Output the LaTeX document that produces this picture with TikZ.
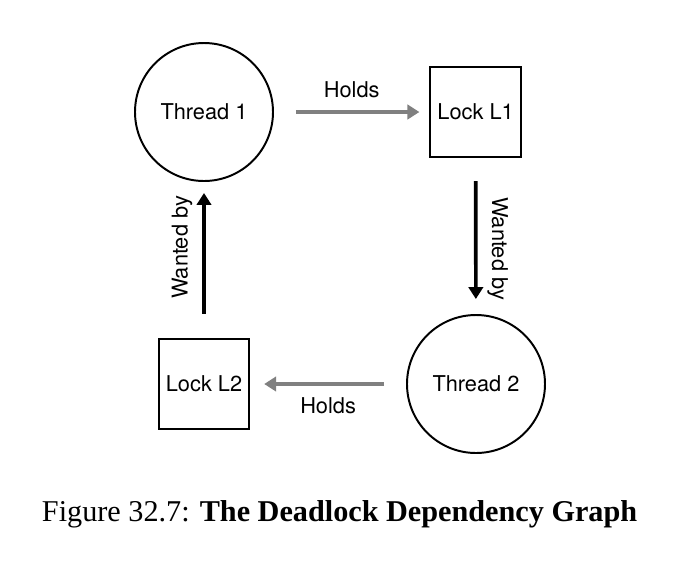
\documentclass[tikz,border=0pt]{standalone}
\usepackage{fontspec}
\newfontfamily\diagfont{TeX Gyre Heros}
\newfontfamily\capfont{Liberation Serif}
\usetikzlibrary{arrows.meta}

\definecolor{holdgray}{RGB}{128,128,128}

\tikzset{
    threadnode/.style={circle, draw, line width=1.4pt, minimum size=3.45cm, inner sep=0pt},
    locknode/.style={rectangle, draw, line width=1.4pt, minimum size=2.26cm, inner sep=0pt},
    holdsarrow/.style={line width=2.6pt, holdgray, -{Triangle[length=0.3cm,width=0.36cm]}},
    wantedarrow/.style={line width=2.6pt, black, -{Triangle[length=0.3cm,width=0.36cm]}}
}

\begin{document}
\begin{tikzpicture}[font=\diagfont\fontsize{15.5}{18}\selectfont]
    \useasboundingbox (0,0) rectangle (17.25,-14.275);

    \node[threadnode] (t1) at (5.1,-2.8) {Thread 1};
    \node[locknode] (l1) at (11.89,-2.8) {Lock L1};
    \node[threadnode] (t2) at (11.9,-9.6) {Thread 2};
    \node[locknode] (l2) at (5.1,-9.6) {Lock L2};

    \draw[holdsarrow, shorten <=0.55cm, shorten >=0.25cm] (t1) -- (l1)
        node[midway, yshift=0.55cm, text=black] (h1) {Holds};
    \draw[wantedarrow, shorten <=0.575cm, shorten >=0.375cm] (l1) -- (t2)
        node[pos=0.58, xshift=0.55cm, rotate=-90] (w1) {Wanted by};
    \draw[holdsarrow, shorten <=0.55cm, shorten >=0.35cm] (t2) -- (l2)
        node[midway, yshift=-0.55cm, text=black] (h2) {Holds};
    \draw[wantedarrow, shorten <=0.6cm, shorten >=0.275cm] (l2) -- (t1)
        node[pos=0.58, xshift=-0.55cm, rotate=90] (w2) {Wanted by};

    % caption
    \node[anchor=base, font=\capfont\fontsize{21.5}{24}\selectfont] (cap) at (8.49,-13.025)
        {Figure 32.7: \textbf{The Deadlock Dependency Graph}};
\end{tikzpicture}
\end{document}
